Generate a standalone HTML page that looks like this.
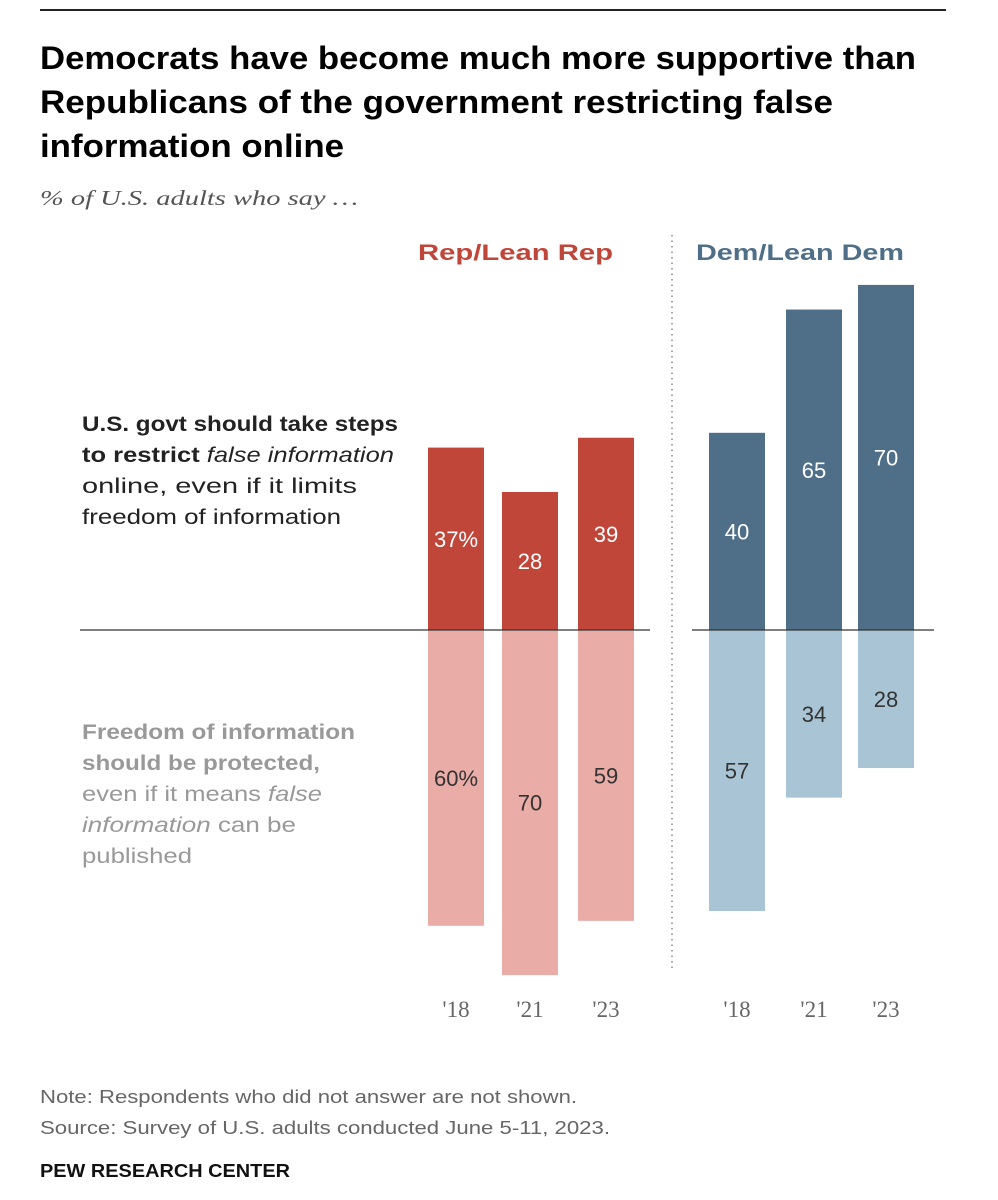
<!DOCTYPE html>
<html><head><meta charset="utf-8"><style>
body{margin:0;background:#fff;width:998px;height:1200px;overflow:hidden}
svg{display:block}
</style></head><body>
<svg width="998" height="1200" xmlns="http://www.w3.org/2000/svg" font-family="Liberation Sans, sans-serif">
<line x1="40" y1="10" x2="946" y2="10" stroke="#222" stroke-width="2"/>
<g font-size="32" font-weight="bold" fill="#000" lengthAdjust="spacingAndGlyphs">
<text x="40" y="69" textLength="876" lengthAdjust="spacingAndGlyphs">Democrats have become much more supportive than</text>
<text x="40" y="113" textLength="793" lengthAdjust="spacingAndGlyphs">Republicans of the government restricting false</text>
<text x="40" y="157" textLength="304" lengthAdjust="spacingAndGlyphs">information online</text>
</g>
<text x="40" y="205" font-family="Liberation Serif, serif" font-style="italic" font-size="21" fill="#555" textLength="318" lengthAdjust="spacingAndGlyphs">% of U.S. adults who say …</text>
<text x="418" y="260" font-size="22" font-weight="bold" fill="#c0463a" textLength="195" lengthAdjust="spacingAndGlyphs">Rep/Lean Rep</text>
<text x="696" y="260" font-size="22" font-weight="bold" fill="#4f6f89" textLength="208" lengthAdjust="spacingAndGlyphs">Dem/Lean Dem</text>
<g font-size="21" fill="#222">
<text x="82" y="431" font-weight="bold" textLength="316" lengthAdjust="spacingAndGlyphs">U.S. govt should take steps</text>
<text x="82" y="462" textLength="312" lengthAdjust="spacingAndGlyphs"><tspan font-weight="bold">to restrict</tspan> <tspan font-style="italic">false information</tspan></text>
<text x="82" y="493" textLength="275" lengthAdjust="spacingAndGlyphs">online, even if it limits</text>
<text x="82" y="524" textLength="259" lengthAdjust="spacingAndGlyphs">freedom of information</text>
</g>
<g font-size="21" fill="#999">
<text x="82" y="739" font-weight="bold" textLength="273" lengthAdjust="spacingAndGlyphs">Freedom of information</text>
<text x="82" y="770" font-weight="bold" textLength="238" lengthAdjust="spacingAndGlyphs">should be protected,</text>
<text x="82" y="801" textLength="240" lengthAdjust="spacingAndGlyphs">even if it means <tspan font-style="italic">false</tspan></text>
<text x="82" y="832" textLength="214" lengthAdjust="spacingAndGlyphs"><tspan font-style="italic">information</tspan> can be</text>
<text x="82" y="863" textLength="110" lengthAdjust="spacingAndGlyphs">published</text>
</g>
<line x1="672" y1="235" x2="672" y2="970" stroke="#888" stroke-width="1.5" stroke-dasharray="1.5,4"/>
<g id="bars"></g>
<line x1="80" y1="630" x2="650" y2="630" stroke="#333" stroke-width="1.3"/>
<line x1="692" y1="630" x2="934" y2="630" stroke="#333" stroke-width="1.3"/>
<g font-size="18" fill="#666">
<text x="40" y="1103" textLength="537" lengthAdjust="spacingAndGlyphs">Note: Respondents who did not answer are not shown.</text>
<text x="40" y="1134" textLength="570" lengthAdjust="spacingAndGlyphs">Source: Survey of U.S. adults conducted June 5-11, 2023.</text>
</g>
<text x="40" y="1177" font-size="18" font-weight="bold" fill="#111" textLength="250" lengthAdjust="spacingAndGlyphs">PEW RESEARCH CENTER</text>
</svg>
<script>
const years = ["'18","'21","'23"];
const repRestrict = [37,28,39];
const repProtect = [60,70,59];
const demRestrict = [40,65,70];
const demProtect = [57,34,28];
const NS="http://www.w3.org/2000/svg";
const base=630, k=4.93, bw=56;
const g=document.getElementById('bars');
function yv(v){return v*k;}
function mk(tag,attrs){const e=document.createElementNS(NS,tag);for(const a in attrs)e.setAttribute(a,attrs[a]);g.appendChild(e);return e;}
function group(x0s,up,down,cUp,cDown,txtDown,pfx){
  x0s.forEach((x,i)=>{
    const h1=yv(up[i]);
    const r1=mk('rect',{x:x,y:base-h1,width:bw,height:h1,fill:cUp});
    
    
    const t1=mk('text',{x:x+bw/2,y:base-h1/2+8,'text-anchor':'middle','font-size':22,fill:'#fff'});
    t1.textContent=up[i]+(i===0&&pfx==='rep'?'%':'');
    
    
    const h2=yv(down[i]);
    const r2=mk('rect',{x:x,y:base,width:bw,height:h2,fill:cDown});
    
    
    const t2=mk('text',{x:x+bw/2,y:base+h2/2+8,'text-anchor':'middle','font-size':22,fill:txtDown});
    t2.textContent=down[i]+(i===0&&pfx==='rep'?'%':'');
    
    
    const t3=mk('text',{x:x+bw/2,y:1017,'text-anchor':'middle','font-size':23,fill:'#666','font-family':'Liberation Serif, serif'});
    t3.textContent=years[i];
    
    
  });
}
group([428,502,578],repRestrict,repProtect,'#c0463a','#eaaca6','#333','rep');
group([709,786,858],demRestrict,demProtect,'#4f6f89','#a9c4d5','#333','dem');
</script>
</body></html>
